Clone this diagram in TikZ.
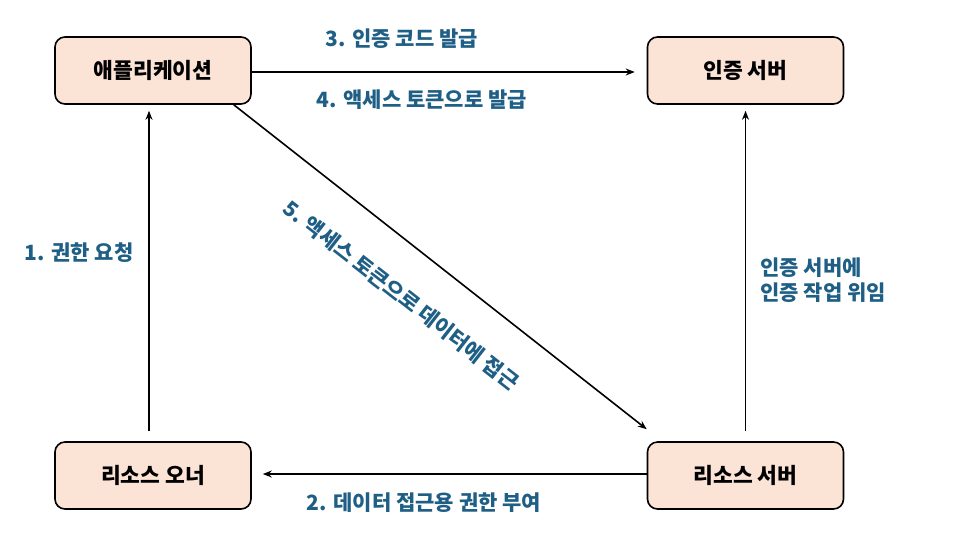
\documentclass[tikz,border=0pt]{standalone}
\usepackage{fontspec}
\setmainfont{Noto Sans CJK KR}
\usetikzlibrary{arrows.meta}
\definecolor{boxfill}{HTML}{FBE3D6}
\definecolor{steplabel}{HTML}{1F5F86}
\begin{document}
\begin{tikzpicture}[x=1pt, y=-1pt,
		actor/.style={rectangle, rounded corners=10pt, draw, line width=1.6pt, fill=boxfill,
			minimum width=196pt, minimum height=67pt, font=\fontsize{21.5}{25}\selectfont\bfseries},
		flow/.style={-{Stealth[length=9pt, width=7pt]}, line width=1.6pt},
		steptext/.style={text=steplabel, font=\fontsize{21}{25}\selectfont\bfseries}
	]
	\useasboundingbox (0,0) rectangle (960,547);
	\node[actor] (app) at (153,70.5) {애플리케이션};
	\node[actor] (auth) at (745.5,70.5) {인증 서버};
	\node[actor] (owner) at (153,475.5) {리소스 오너};
	\node[actor] (res) at (745.5,475.5) {리소스 서버};

	\draw[flow] ([yshift=-1.5pt]app.east) -- ([xshift=-12pt, yshift=-1.5pt]auth.west);
	\draw[flow] ([xshift=-4pt, yshift=10pt]owner.north) -- ([xshift=-4pt, yshift=-6pt]app.south);
	\draw[flow] ([yshift=1.5pt]res.west) -- ([xshift=11pt, yshift=1.5pt]owner.east);
	\draw[flow] ([yshift=10pt]res.north) -- ([yshift=-6pt]auth.south);
	\draw[flow] ([xshift=-18pt]app.south east) -- ([yshift=12pt]res.north west);

	% step labels
	\node[steptext] (s1) at (79,253) {1. 권한 요청};
	\node[steptext] (s2) at (424,503) {2. 데이터 접근용 권한 부여};
	\node[steptext] (s3) at (402,39) {3. 인증 코드 발급};
	\node[steptext] (s4) at (422,100) {4. 액세스 토큰으로 발급};
	\node[steptext, rotate=-38] (s5) at (401,295) {5. 액세스 토큰으로 데이터에 접근};
	\node[steptext, anchor=west, align=left] (deleg) at (757,280) {인증 서버에\\인증 작업 위임};
\end{tikzpicture}
\end{document}
